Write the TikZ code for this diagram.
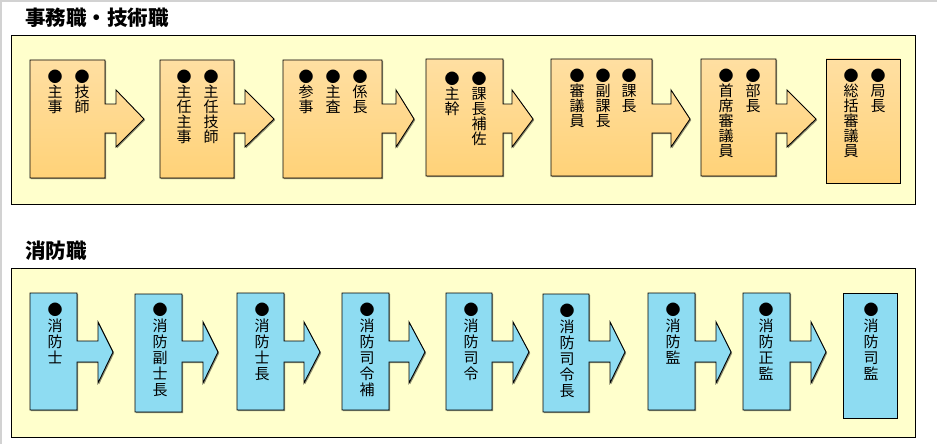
\documentclass[tikz,border=0pt]{standalone}
\usepackage{fontspec}
\newfontfamily\jp{Noto Sans CJK JP}
\usetikzlibrary{shadows}
\definecolor{panelfill}{RGB}{255,255,204}
\definecolor{orangetop}{RGB}{255,223,162}
\definecolor{orangebot}{RGB}{255,210,120}
\definecolor{bluefill}{RGB}{142,220,242}
\definecolor{framegray}{RGB}{210,210,210}
\newcommand\vcol[2]{\vtop{\baselineskip=#1\lineskiplimit=-\maxdimen\lineskip=0pt\halign{\hfil##\hfil\cr#2}}}
\newcommand\arrowbox[8]{% style, name, L, T, R, B, S, X
  \path[#1] (#3,#4) coordinate (#2-nw) -- (#5,#4) -- (#5,\shaftT) -- (#7,\shaftT) -- (#7,\headT)
    -- (#8,\tipY) coordinate (#2-tip) -- (#7,\headB) -- (#7,\shaftB) -- (#5,\shaftB) -- (#5,#6) -- (#3,#6) -- cycle;}
\newcommand\plainbox[6]{% style, name, L, T, R, B
  \path[#1] (#3,#4) coordinate (#2-nw) rectangle (#5,#6) coordinate (#2-se);}
\tikzset{
  panel/.style={draw=black, line width=0.9pt, fill=panelfill},
  orangeshape/.style={draw=black, line width=0.9pt, top color=orangetop, bottom color=orangebot,
     drop shadow={shadow xshift=1.2pt, shadow yshift=-1.2pt, fill=black, opacity=0.45}},
  blueshape/.style={draw=black, line width=0.9pt, fill=bluefill,
     drop shadow={shadow xshift=1.2pt, shadow yshift=-1.2pt, fill=black, opacity=0.45}},
  title/.style={font=\jp\bfseries\fontsize{20.5}{20.5}\selectfont, inner sep=0pt, anchor=west},
  coltop/.style={font=\jp\fontsize{15}{15}\selectfont, inner sep=0pt, anchor=base},
  colbot/.style={font=\jp\fontsize{15}{15}\selectfont, inner sep=0pt, anchor=base},
}
\begin{document}
\begin{tikzpicture}[x=1pt,y=-1pt]
\useasboundingbox (0,0) rectangle (937,444);
\fill[white] (0,0) rectangle (937,444);
\draw[framegray, line width=2pt] (1,444) -- (1,1) -- (937,1);

% titles
\node[title] (t1) at (25,18) {事務職・技術職};
\node[title] (t2) at (25,250.5) {消防職};

% panels
\path[panel] (11,35) rectangle (915,204);
\path[panel] (11,268) rectangle (915,437);

% top row shapes
\def\shaftT{104}\def\shaftB{133}\def\headT{90}\def\headB{147}\def\tipY{119}
\arrowbox{orangeshape}{a1}{30}{60}{105}{178}{116}{144}
\arrowbox{orangeshape}{a2}{160}{60}{234}{178}{245}{274}
\arrowbox{orangeshape}{a3}{283}{60}{382}{178}{396}{414}
\arrowbox{orangeshape}{a4}{426}{59}{503}{176}{512}{533}
\arrowbox{orangeshape}{a5}{551}{59}{652}{176}{671}{690}
\arrowbox{orangeshape}{a6}{701}{59}{776}{176}{787}{816}
\plainbox{orangeshape}{a7}{826}{59}{900}{183}

% top row texts
\node[coltop] (a1c1) at (55,82.7) {\vcol{15pt}{●\cr 主\cr 事\cr}};
\node[coltop] (a1c2) at (82,82.7) {\vcol{15pt}{●\cr 技\cr 師\cr}};
\node[coltop] (a2c1) at (184,82.7) {\vcol{15pt}{●\cr 主\cr 任\cr 主\cr 事\cr}};
\node[coltop] (a2c2) at (211,82.7) {\vcol{15pt}{●\cr 主\cr 任\cr 技\cr 師\cr}};
\node[coltop] (a3c1) at (306,82.7) {\vcol{15pt}{●\cr 参\cr 事\cr}};
\node[coltop] (a3c2) at (333,82.7) {\vcol{15pt}{●\cr 主\cr 査\cr}};
\node[coltop] (a3c3) at (360,82.7) {\vcol{15pt}{●\cr 係\cr 長\cr}};
\node[coltop] (a4c1) at (452,84.7) {\vcol{15pt}{●\cr 主\cr 幹\cr}};
\node[coltop] (a4c2) at (479,84.7) {\vcol{15pt}{●\cr 課\cr 長\cr 補\cr 佐\cr}};
\node[coltop] (a5c1) at (577,81.7) {\vcol{15pt}{●\cr 審\cr 議\cr 員\cr}};
\node[coltop] (a5c2) at (603,81.7) {\vcol{15pt}{●\cr 副\cr 課\cr 長\cr}};
\node[coltop] (a5c3) at (629,81.7) {\vcol{15pt}{●\cr 課\cr 長\cr}};
\node[coltop] (a6c1) at (726,81.7) {\vcol{15pt}{●\cr 首\cr 席\cr 審\cr 議\cr 員\cr}};
\node[coltop] (a6c2) at (753,81.7) {\vcol{15pt}{●\cr 部\cr 長\cr}};
\node[coltop] (a7c1) at (851,81.7) {\vcol{15pt}{●\cr 総\cr 括\cr 審\cr 議\cr 員\cr}};
\node[coltop] (a7c2) at (878,81.7) {\vcol{15pt}{●\cr 局\cr 長\cr}};

% bottom row shapes
\def\shaftT{341}\def\shaftB{362}\def\headT{322}\def\headB{383}\def\tipY{352}
\arrowbox{blueshape}{b1}{30}{293}{77}{410}{98}{113}
\arrowbox{blueshape}{b2}{135}{294}{182}{412}{203}{218}
\arrowbox{blueshape}{b3}{237}{293}{284}{410}{304}{320}
\arrowbox{blueshape}{b4}{342}{293}{389}{410}{409}{425}
\arrowbox{blueshape}{b5}{446}{293}{492}{410}{513}{529}
\arrowbox{blueshape}{b6}{543}{294}{589}{412}{610}{625}
\arrowbox{blueshape}{b7}{648}{293}{695}{410}{716}{731}
\arrowbox{blueshape}{b8}{743}{293}{790}{410}{811}{826}
\plainbox{blueshape}{b9}{843}{293}{897}{418}

% bottom row texts
\node[colbot] (b1c) at (55,315.7) {\vcol{16pt}{●\cr 消\cr 防\cr 士\cr}};
\node[colbot] (b2c) at (160,315.7) {\vcol{16pt}{●\cr 消\cr 防\cr 副\cr 士\cr 長\cr}};
\node[colbot] (b3c) at (262,315.7) {\vcol{16pt}{●\cr 消\cr 防\cr 士\cr 長\cr}};
\node[colbot] (b4c) at (367,315.7) {\vcol{16pt}{●\cr 消\cr 防\cr 司\cr 令\cr 補\cr}};
\node[colbot] (b5c) at (471,315.7) {\vcol{16pt}{●\cr 消\cr 防\cr 司\cr 令\cr}};
\node[colbot] (b6c) at (567,316.7) {\vcol{16pt}{●\cr 消\cr 防\cr 司\cr 令\cr 長\cr}};
\node[colbot] (b7c) at (673,315.7) {\vcol{16pt}{●\cr 消\cr 防\cr 監\cr}};
\node[colbot] (b8c) at (766,315.7) {\vcol{16pt}{●\cr 消\cr 防\cr 正\cr 監\cr}};
\node[colbot] (b9c) at (871,315.7) {\vcol{16pt}{●\cr 消\cr 防\cr 司\cr 監\cr}};
\end{tikzpicture}
\end{document}
